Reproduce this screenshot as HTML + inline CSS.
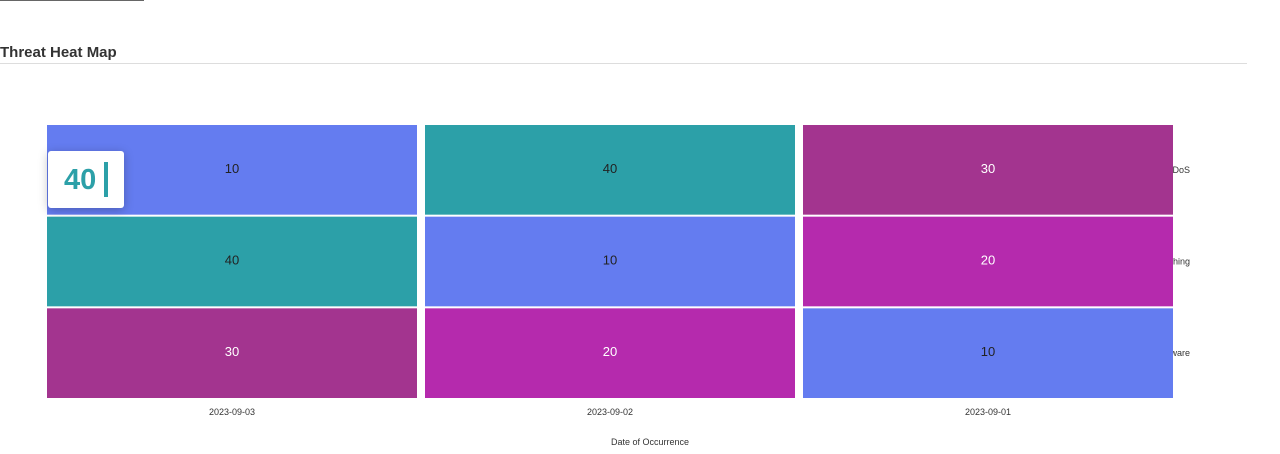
<!DOCTYPE html>
<html><head><meta charset="utf-8"><style>
body{margin:0;width:1280px;height:454px;background:#fff;font-family:"Liberation Sans",sans-serif;position:relative;overflow:hidden}
#topbar{position:absolute;left:0;top:0;width:144px;height:1px;background:#666}
#title{position:absolute;left:0;top:44px;font-size:15px;font-weight:bold;color:#333}
#rule{position:absolute;left:0;top:63px;width:1247px;height:1px;background:#ddd}
#tip{position:absolute;left:48px;top:151px;width:76px;height:57px;background:#fff;border-radius:3px;box-shadow:0 2px 10px rgba(0,0,0,.25)}
#tip span{position:absolute;left:16px;top:13px;font-size:29px;font-weight:bold;color:#2ca0a8}
#tip i{position:absolute;left:56px;top:11px;width:4px;height:35px;background:#2ca0a8}
</style></head><body>
<div id="topbar"></div>
<div id="title">Threat Heat Map</div>
<div id="rule"></div>
<svg id="chart" width="1280" height="454" style="position:absolute;left:0;top:0"></svg>
<div id="tip"><span>40</span><i></i></div>
<script>
const dates = ["2023-09-03","2023-09-02","2023-09-01"];
const threats = ["DoS","Phishing","Malware"];
const values = [[10,40,30],[40,10,20],[30,20,10]];
const colorFor = {10:"#647cf0",20:"#b52aad",30:"#a3348f",40:"#2ca0a8"};
const ns="http://www.w3.org/2000/svg", svg=document.getElementById('chart');
const x0=47,x1=1173,y0=125,y1=398,gap=8,gy=2;
const cw=(x1-x0+gap)/dates.length, ch=(y1-y0+gy)/threats.length;
const xPos=i=>x0+i*cw, yPos=j=>y0+j*ch;
function mk(t,a){const e=document.createElementNS(ns,t);for(const k in a)e.setAttribute(k,a[k]);svg.appendChild(e);return e;}
threats.forEach((t,j)=>{const e=mk('text',{x:1190,y:yPos(j)+(ch-gy)/2+3,'text-anchor':'end','font-size':9,fill:'#333'});e.textContent=t;

});
values.forEach((row,j)=>row.forEach((v,i)=>{
const r=mk('rect',{x:xPos(i),y:yPos(j),width:cw-gap,height:ch-gy,fill:colorFor[v]||"#647cf0"});


const cx=xPos(i)+(cw-gap)/2;
const t=mk('text',{x:cx,y:yPos(j)+(ch-gy)/2+3,'text-anchor':'middle','font-size':13,fill:(v==10||v==40)?'#222':'#fff'});t.textContent=v;


}));
dates.forEach((d,i)=>{const e=mk('text',{x:xPos(i)+(cw-gap)/2,y:415,'text-anchor':'middle','font-size':9,fill:'#333'});e.textContent=d;

});
const xt=mk('text',{x:650,y:445,'text-anchor':'middle','font-size':9,fill:'#333'});xt.textContent="Date of Occurrence";


</script>
</body></html>
